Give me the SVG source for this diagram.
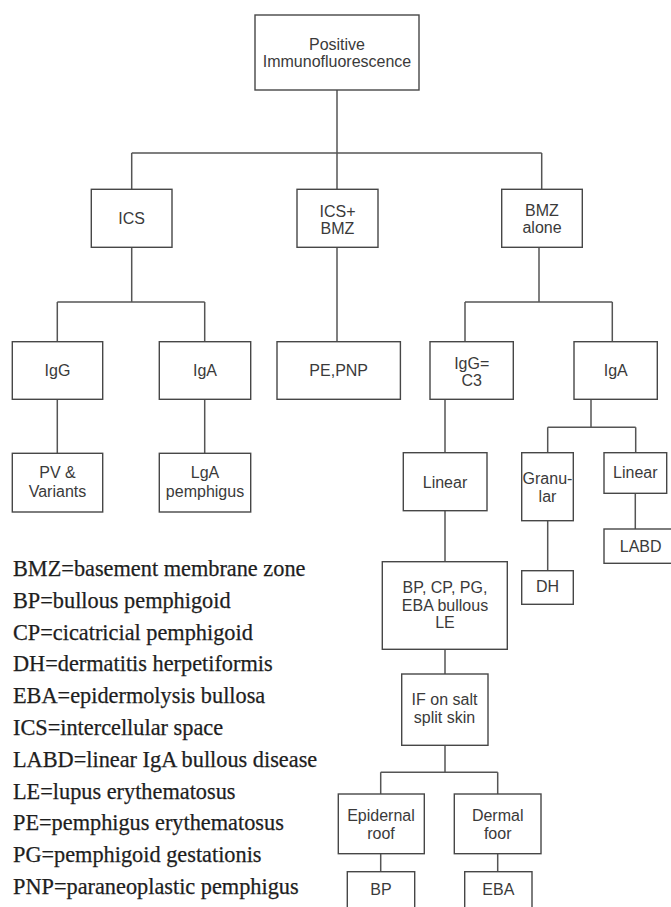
<svg xmlns="http://www.w3.org/2000/svg" width="671" height="907" viewBox="0 0 671 907">
<style>
.box{fill:#fff;stroke:#474747;stroke-width:1.4}
.t{font-family:"Liberation Sans",Arial,sans-serif;font-size:16px;fill:#3a3a3a;text-anchor:middle}
.c{fill:none;stroke:#555;stroke-width:1.5}
.lg{font-family:"Liberation Serif","Times New Roman",serif;font-size:22.3px;fill:#1e1e1e;stroke:#1e1e1e;stroke-width:0.25}
</style>
<rect width="671" height="907" fill="#fff"/>
<g id="connectors" class="c">
<path d="M337 90V153M131.7 153H541.7M131.7 153V189.3M337 153V190M541.7 153V189.3"/>
<path d="M131.7 247.3V302M57.3 302H204.7M57.3 302V341.7M204.7 302V341.7"/>
<path d="M337 247.3V341.7"/>
<path d="M539 247.3V302M465 302H612.3M465 302V341.7M612.3 302V341.7"/>
<path d="M57.3 399.3V453.3M204.7 399.3V453.3"/>
<path d="M445 399.3V452.7"/>
<path d="M591 399.3V427.3M547.7 427.3H635.7M547.7 427.3V452.7M635.7 427.3V452.7"/>
<path d="M445 510.7V561.7M547.7 520.7V570.7M635.3 493.3V529"/>
<path d="M445 649.3V674M445 745.3V772.3M380.7 772.3H497.7M380.7 772.3V794M497.7 772.3V794"/>
<path d="M380.7 853.7V871.7M497.7 853.7V871.7"/>
</g>
<g id="root"><rect class="box" x="255" y="15" width="164" height="75"/><text class="t" x="337" y="50">Positive</text><text class="t" x="337" y="66.7">Immunofluorescence</text></g>
<g id="ics"><rect class="box" x="91.3" y="189.3" width="80.7" height="58"/><text class="t" x="131.7" y="223.5">ICS</text></g>
<g id="icsbmz"><rect class="box" x="297" y="189.3" width="81" height="58"/><text class="t" x="337.5" y="216.7">ICS+</text><text class="t" x="337.5" y="234">BMZ</text></g>
<g id="bmzalone"><rect class="box" x="501.7" y="189.3" width="80.6" height="58"/><text class="t" x="542" y="215.7">BMZ</text><text class="t" x="542" y="233.3">alone</text></g>
<g id="igg"><rect class="box" x="12.3" y="341.7" width="90.4" height="57.6"/><text class="t" x="57.5" y="375.5">IgG</text></g>
<g id="iga1"><rect class="box" x="159.3" y="341.7" width="91.4" height="57.6"/><text class="t" x="205" y="375.5">IgA</text></g>
<g id="pepnp"><rect class="box" x="277" y="341.7" width="123.4" height="57.6"/><text class="t" x="338.7" y="375.5">PE,PNP</text></g>
<g id="iggc3"><rect class="box" x="430" y="341.7" width="83.3" height="57.6"/><text class="t" x="471.7" y="369.3">IgG=</text><text class="t" x="471.7" y="386">C3</text></g>
<g id="iga2"><rect class="box" x="574" y="341.7" width="83.3" height="57.6"/><text class="t" x="615.7" y="375.5">IgA</text></g>
<g id="pv"><rect class="box" x="12.3" y="453.3" width="90.4" height="58.7"/><text class="t" x="57.5" y="478">PV &amp;</text><text class="t" x="57.5" y="496.7">Variants</text></g>
<g id="lga"><rect class="box" x="159.3" y="453.3" width="91.4" height="58.7"/><text class="t" x="205" y="478">LgA</text><text class="t" x="205" y="496.7">pemphigus</text></g>
<g id="linear1"><rect class="box" x="403.3" y="452.7" width="83.7" height="58"/><text class="t" x="445" y="488.3">Linear</text></g>
<g id="granular"><rect class="box" x="521.7" y="452.7" width="51.6" height="68"/><text class="t" x="547.5" y="484.3">Granu-</text><text class="t" x="547.5" y="501.7">lar</text></g>
<g id="linear2"><rect class="box" x="604" y="452.7" width="62.7" height="40.6"/><text class="t" x="635.3" y="478.3">Linear</text></g>
<g id="labd"><rect class="box" x="604" y="529" width="74" height="34.3"/><text class="t" x="640.7" y="551.7">LABD</text></g>
<g id="dh"><rect class="box" x="521.7" y="570.7" width="51.6" height="33.6"/><text class="t" x="547.5" y="591.7">DH</text></g>
<g id="bpcp"><rect class="box" x="382.3" y="561.7" width="125" height="87.6"/><text class="t" x="445" y="593.3">BP, CP, PG,</text><text class="t" x="445" y="610.7">EBA bullous</text><text class="t" x="445" y="628.3">LE</text></g>
<g id="ifsalt"><rect class="box" x="401.7" y="674" width="86.3" height="71.3"/><text class="t" x="444.5" y="705">IF on salt</text><text class="t" x="444.5" y="722.7">split skin</text></g>
<g id="epi"><rect class="box" x="338.3" y="794" width="86" height="59.7"/><text class="t" x="381" y="821">Epidernal</text><text class="t" x="381" y="839">roof</text></g>
<g id="dermal"><rect class="box" x="454.3" y="794" width="86.7" height="59.7"/><text class="t" x="497.7" y="821">Dermal</text><text class="t" x="497.7" y="839">foor</text></g>
<g id="bp"><rect class="box" x="347.3" y="871.7" width="67.4" height="40"/><text class="t" x="381" y="895">BP</text></g>
<g id="eba"><rect class="box" x="464.7" y="871.7" width="67.3" height="40"/><text class="t" x="498.3" y="895">EBA</text></g>
<g id="legend" class="lg">
<text x="13" y="576">BMZ=basement membrane zone</text>
<text x="13" y="607.8">BP=bullous pemphigoid</text>
<text x="13" y="639.6">CP=cicatricial pemphigoid</text>
<text x="13" y="671.4">DH=dermatitis herpetiformis</text>
<text x="13" y="703.2">EBA=epidermolysis bullosa</text>
<text x="13" y="735">ICS=intercellular space</text>
<text x="13" y="766.8">LABD=linear IgA bullous disease</text>
<text x="13" y="798.6">LE=lupus erythematosus</text>
<text x="13" y="830.4">PE=pemphigus erythematosus</text>
<text x="13" y="862.2">PG=pemphigoid gestationis</text>
<text x="13" y="894">PNP=paraneoplastic pemphigus</text>
</g>
</svg>
